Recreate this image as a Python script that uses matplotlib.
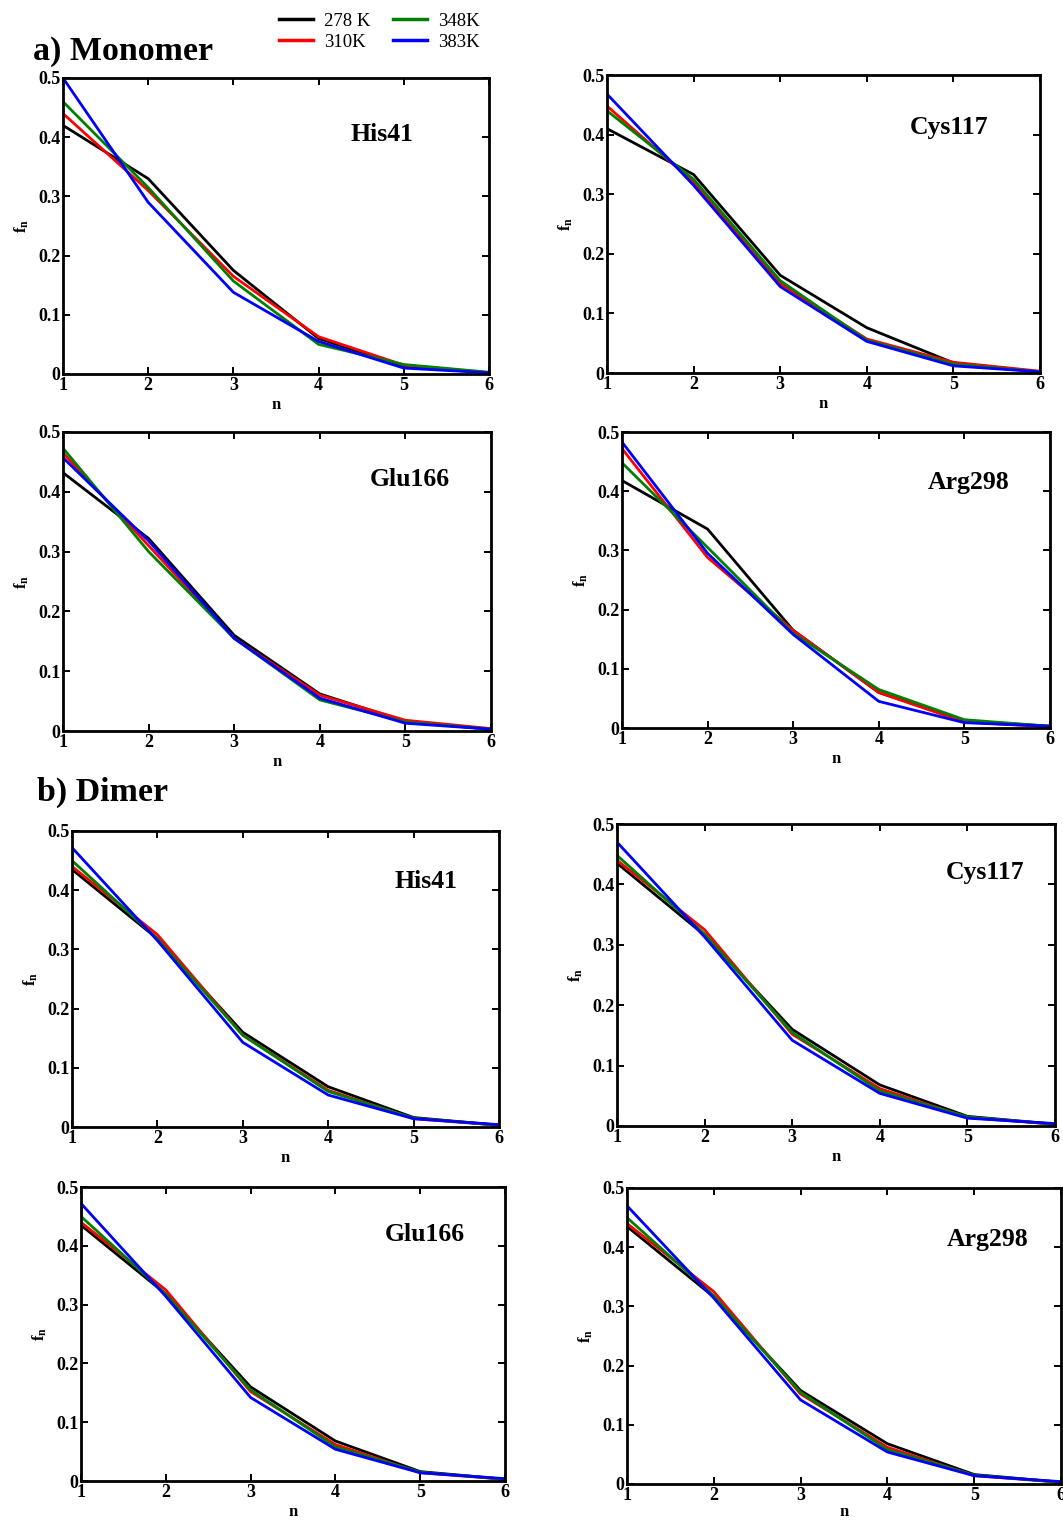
import matplotlib
matplotlib.use('Agg')
import matplotlib.pyplot as plt

plt.rcParams['font.family'] = ['Liberation Serif', 'DejaVu Serif']
plt.rcParams['font.weight'] = 'bold'
plt.rcParams['mathtext.fontset'] = 'custom'
plt.rcParams['mathtext.rm'] = 'Liberation Serif:bold'
plt.rcParams['mathtext.bf'] = 'Liberation Serif:bold'
plt.rcParams['mathtext.it'] = 'Liberation Serif:bold'

# data: fraction f_n of n-fold hydrogen bonded states, per residue and temperature
n = [1, 2, 3, 4, 5, 6]
temps = ['278 K', '310K', '348K', '383K']
colors = ['black', 'red', 'green', 'blue']

mono_his41 = [
    [0.420, 0.330, 0.175, 0.060, 0.013, 0.002],
    [0.440, 0.310, 0.165, 0.063, 0.015, 0.002],
    [0.460, 0.315, 0.157, 0.050, 0.016, 0.003],
    [0.500, 0.290, 0.138, 0.055, 0.010, 0.002],
]
mono_cys117 = [
    [0.410, 0.333, 0.164, 0.076, 0.017, 0.002],
    [0.448, 0.320, 0.150, 0.057, 0.018, 0.003],
    [0.440, 0.325, 0.155, 0.055, 0.015, 0.002],
    [0.468, 0.315, 0.145, 0.053, 0.012, 0.002],
]
mono_glu166 = [
    [0.432, 0.322, 0.160, 0.062, 0.016, 0.003],
    [0.465, 0.310, 0.155, 0.060, 0.018, 0.004],
    [0.473, 0.300, 0.155, 0.052, 0.015, 0.003],
    [0.457, 0.318, 0.155, 0.055, 0.013, 0.003],
]
mono_arg298 = [
    [0.418, 0.336, 0.165, 0.060, 0.012, 0.003],
    [0.472, 0.288, 0.165, 0.060, 0.010, 0.002],
    [0.448, 0.305, 0.160, 0.065, 0.014, 0.003],
    [0.483, 0.295, 0.158, 0.045, 0.009, 0.003],
]
dim_his41 = [
    [0.435, 0.318, 0.160, 0.068, 0.016, 0.003],
    [0.440, 0.325, 0.155, 0.062, 0.014, 0.003],
    [0.450, 0.318, 0.155, 0.060, 0.015, 0.003],
    [0.472, 0.315, 0.143, 0.054, 0.014, 0.004],
]
dim_cys117 = [
    [0.435, 0.316, 0.160, 0.068, 0.016, 0.003],
    [0.440, 0.325, 0.152, 0.062, 0.014, 0.003],
    [0.448, 0.318, 0.155, 0.058, 0.015, 0.003],
    [0.470, 0.313, 0.142, 0.054, 0.013, 0.004],
]
dim_glu166 = [
    [0.435, 0.318, 0.160, 0.068, 0.016, 0.003],
    [0.440, 0.325, 0.152, 0.062, 0.014, 0.003],
    [0.450, 0.318, 0.155, 0.058, 0.015, 0.003],
    [0.472, 0.314, 0.142, 0.054, 0.014, 0.004],
]
dim_arg298 = [
    [0.435, 0.316, 0.158, 0.068, 0.016, 0.003],
    [0.440, 0.325, 0.152, 0.062, 0.014, 0.003],
    [0.450, 0.318, 0.155, 0.058, 0.015, 0.003],
    [0.470, 0.314, 0.142, 0.054, 0.014, 0.004],
]

W, H = 1063, 1521
fig = plt.figure(figsize=(W / 100, H / 100), dpi=100)

# panels: (data, name, pixel box left/right/top/bottom, label position in axes coords)
panels = [
    (mono_his41, 'His41', (63, 489, 78, 374), (0.75, 0.81)),
    (mono_cys117, 'Cys117', (607, 1040, 75, 373), (0.79, 0.825)),
    (mono_glu166, 'Glu166', (63, 491, 432, 731), (0.81, 0.84)),
    (mono_arg298, 'Arg298', (622, 1050, 432, 728), (0.81, 0.83)),
    (dim_his41, 'His41', (72, 499, 831, 1127), (0.83, 0.83)),
    (dim_cys117, 'Cys117', (617, 1055, 824, 1126), (0.84, 0.84)),
    (dim_glu166, 'Glu166', (81, 505, 1187, 1481), (0.81, 0.84)),
    (dim_arg298, 'Arg298', (627, 1061, 1188, 1484), (0.83, 0.825)),
]

for data, name, (l, r, t, b), (tx, ty) in panels:
    ax = fig.add_axes([l / W, 1 - b / H, (r - l) / W, (b - t) / H])
    for vals, c, lab in zip(data, colors, temps):
        ax.plot(n, vals, color=c, lw=2, label=lab)
    ax.set_xlim(1, 6)
    ax.set_ylim(0, 0.5)
    ax.set_xticks(n)
    ax.set_yticks([0, 0.1, 0.2, 0.3, 0.4, 0.5])
    ax.set_yticklabels(['0', '0.1', '0.2', '0.3', '0.4', '0.5'])
    ax.tick_params(direction='in', top=True, right=True, length=5, width=1.4,
                   labelsize=13, pad=2)
    for sp in ax.spines.values():
        sp.set_linewidth(2)
    ax.set_xlabel('n', fontsize=12, fontweight='bold', labelpad=0 if b > 1482 else 2)
    ax.set_ylabel(r'$\mathbf{f_n}$', fontsize=12, labelpad=5)
    ax.text(tx, ty, name, transform=ax.transAxes, ha='center', va='center',
            fontsize=18.5, fontweight='bold')

fig.text(33 / W, 1 - 60 / H, 'a) Monomer', fontsize=24.5, fontweight='bold', va='baseline')
fig.text(37 / W, 1 - 801 / H, 'b) Dimer', fontsize=24.5, fontweight='bold', va='baseline')

handles = fig.axes[0].get_lines()
leg = fig.legend(handles, temps, loc='upper left', bbox_to_anchor=(270 / W, 1 - 3 / H),
                 ncol=2, frameon=False, handlelength=1.8,
                 labelspacing=0.22, columnspacing=1.2, handletextpad=0.6,
                 borderpad=0, prop={'family': 'Liberation Serif', 'weight': 'normal', 'size': 13.5})
for line in leg.get_lines():
    line.set_linewidth(2.5)

fig.savefig('out.png', dpi=100)
